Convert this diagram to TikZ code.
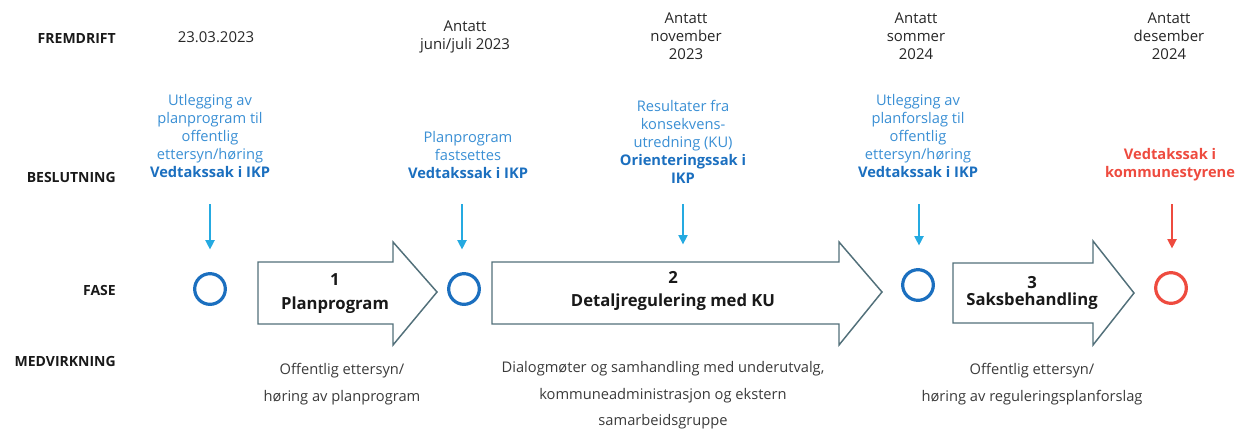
\documentclass[tikz,border=0pt]{standalone}
\usepackage{fontspec}
\setmainfont{Open Sans}
\usepackage{xcolor}
\usepackage{tikz}
\usetikzlibrary{arrows.meta,positioning}
\definecolor{planblue}{HTML}{1B6FBF}
\definecolor{lightplan}{HTML}{3A8FD4}
\definecolor{arrowblue}{HTML}{25AAE1}
\definecolor{vedtakred}{HTML}{EE4B3F}
\definecolor{phasegray}{HTML}{52707A}
\definecolor{medgray}{HTML}{3A3A3A}

\begin{document}
\begin{tikzpicture}[x=0.75pt, y=-0.75pt, >=Stealth,
  rowlabel/.style={anchor=east, inner sep=0pt,
    font=\fontsize{10.5}{12}\selectfont\bfseries, text=black!90},
  datetext/.style={anchor=north, inner sep=0pt, align=center,
    font=\fontsize{11.2}{13.5}\selectfont, text=black!85},
  decision/.style={anchor=north, inner sep=0pt, align=center,
    font=\fontsize{11}{13.5}\selectfont, text=lightplan},
  milestone/.style={circle, draw=planblue, line width=2.4pt,
    minimum size=23pt, inner sep=0pt},
  decarrow/.style={-{Triangle[width=7pt,length=7pt]}, line width=1pt,
    draw=arrowblue, shorten >=17pt},
  phasearrow/.style={draw=phasegray, line width=1.1pt, fill=white},
  phasetitle/.style={anchor=north, inner sep=0pt, align=center,
    font=\fontsize{12.5}{18}\selectfont\bfseries, text=black!90},
  participation/.style={anchor=north, inner sep=0pt, align=center,
    font=\fontsize{11}{20}\selectfont, text=medgray}]
\useasboundingbox (0,0) rectangle (1245,430);

% --- Row labels ---
\node[rowlabel] (rfrem) at (116,38) {FREMDRIFT};
\node[rowlabel] (rbesl) at (116,177) {BESLUTNING};
\node[rowlabel] (rfase) at (116,290) {FASE};
\node[rowlabel] (rmedv) at (116,361) {MEDVIRKNING};

% --- Fremdrift ---
\node[datetext] (f1) at (216,31) {23.03.2023};
\node[datetext] (f2) at (465,21) {Antatt\\juni/juli 2023};
\node[datetext] (f3) at (686,13) {Antatt\\november\\2023};
\node[datetext] (f4) at (916,13) {Antatt\\sommer\\2024};
\node[datetext] (f5) at (1169,13) {Antatt\\desember\\2024};

% --- Beslutning ---
\node[decision] (b1) at (210,94)
  {Utlegging av\\planprogram til\\offentlig\\ettersyn/høring\\
   \textcolor{planblue}{\textbf{Vedtakssak i IKP}}};
\node[decision] (b2) at (468,131)
  {Planprogram\\fastsettes\\\textcolor{planblue}{\textbf{Vedtakssak i IKP}}};
\node[decision] (b3) at (683,100)
  {Resultater fra\\konsekvens-\\utredning (KU)\\
   \textcolor{planblue}{\textbf{Orienteringssak i}}\\
   \textcolor{planblue}{\textbf{IKP}}};
\node[decision] (b4) at (918,94)
  {Utlegging av\\planforslag til\\offentlig\\ettersyn/høring\\
   \textcolor{planblue}{\textbf{Vedtakssak i IKP}}};
\node[decision, text=vedtakred, font=\fontsize{11}{13.5}\selectfont\bfseries]
  (b5) at (1170,148) {Vedtakssak i\\kommunestyrene};

% --- Fase: milestones ---
\node[milestone] (c1) at (210,289) {};
\node[milestone] (c2) at (464,289) {};
\node[milestone] (c4) at (918,285) {};
\node[milestone, draw=vedtakred] (c5) at (1171,288) {};

% decision arrows
\coordinate (s1) at (210,204);
\coordinate (s2) at (462,204);
\coordinate (s3) at (683,204);
\coordinate (s4) at (919,204);
\coordinate (s5) at (1172,204);
\coordinate (e3) at (683,267);
\draw[decarrow] (s1) -- (s1 |- c1.north);
\draw[decarrow] (s2) -- (s2 |- c2.north);
\draw[decarrow] (s3) -- (e3);
\draw[decarrow] (s4) -- (s4 |- c4.north);
\draw[decarrow, draw=vedtakred] (s5) -- (s5 |- c5.north);

% --- Fase: block arrows ---
\draw[phasearrow] (258,262) -- (393,262) -- (393,242) -- (437,292)
  -- (393,345) -- (393,324) -- (258,324) -- cycle;
\draw[phasearrow] (492,262) -- (839,262) -- (839,242) -- (882,292)
  -- (839,345) -- (839,324) -- (492,324) -- cycle;
\draw[phasearrow] (953,263) -- (1093,263) -- (1093,241) -- (1134,293)
  -- (1093,345) -- (1093,323) -- (953,323) -- cycle;
\node[phasetitle] (t1) at (335,273) {1\\Planprogram};
\node[phasetitle, font=\fontsize{12.5}{17.5}\selectfont\bfseries]
  (t2) at (673,271) {2\\Detaljregulering med KU};
\node[phasetitle, font=\fontsize{12.5}{13}\selectfont\bfseries]
  (t3) at (1032,276) {3\\Saksbehandling};

% --- Medvirkning ---
\node[participation] (m1) at (342,363)
  {Offentlig ettersyn/\\høring av planprogram};
\node[participation] (m2) at (663,361)
  {Dialogmøter og samhandling med underutvalg,\\
   kommuneadministrasjon og ekstern\\samarbeidsgruppe};
\node[participation] (m3) at (1032,363)
  {Offentlig ettersyn/\\høring av reguleringsplanforslag};

\end{tikzpicture}
\end{document}
